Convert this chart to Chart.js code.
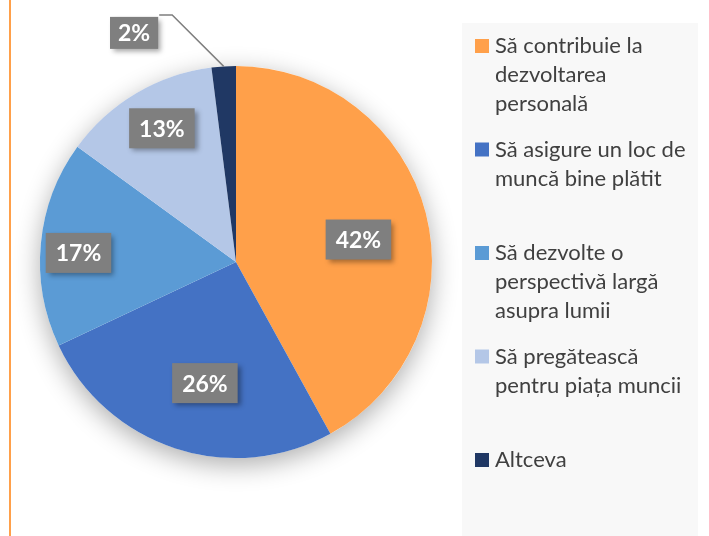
<!DOCTYPE html>
<html>
<head>
<meta charset="utf-8">
<script src="https://cdn.jsdelivr.net/npm/chart.js@4.4.0/dist/chart.umd.min.js"></script>
<style>
  html, body { margin: 0; padding: 0; background: #ffffff; }
  #wrap { position: relative; width: 709px; height: 536px; }
</style>
</head>
<body>
<div id="wrap"><canvas id="grafica"></canvas></div>
<script>
// Categorii (legenda, pe randuri ca in original)
const categorii = [
    ['Să contribuie la', 'dezvoltarea', 'personală'],
    ['Să asigure un loc de', 'muncă bine plătit'],
    ['Să dezvolte o', 'perspectivă largă', 'asupra lumii'],
    ['Să pregătească', 'pentru piața muncii'],
    ['Altceva']
];
// Procente
const procente = [42, 26, 17, 13, 2];

const culori = {
    portocaliu: '#FFA04A',
    albastru: '#4472C4',
    albastruMediu: '#5B9BD5',
    albastruDeschis: '#B4C7E7',
    bleumarin: '#203864',
    eticheta: '#7F7F7F',
    text: '#404040',
    panou: '#F8F8F8'
};
const culoriFelii = [culori.portocaliu, culori.albastru, culori.albastruMediu, culori.albastruDeschis, culori.bleumarin];

// unde stau etichetele in felii (fractie din raza, decalaj in grade); null = eticheta exterioara
const pozEtichete = [
    { r: 0.635, a: 4 },
    { r: 0.638, a: -3.6 },
    { r: 0.805, a: -2.1 },
    { r: 0.78, a: 1.6 },
    null
];

// umbra sub placinta
const umbraPlacinta = {
    id: 'umbraPlacinta',
    beforeDatasetsDraw(chart) {
        const arc = chart.getDatasetMeta(0).data[0];
        const ctx = chart.ctx;
        ctx.save();
        ctx.shadowColor = 'rgba(0, 0, 0, 0.32)';
        ctx.shadowBlur = 26;
        ctx.shadowOffsetY = 7;
        ctx.beginPath();
        ctx.arc(arc.x, arc.y, arc.outerRadius, 0, Math.PI * 2);
        ctx.fillStyle = '#ffffff';
        ctx.fill();
        ctx.restore();
    }
};

// fundal legenda + linia portocalie din stanga
const fundal = {
    id: 'fundal',
    beforeDraw(chart) {
        const ctx = chart.ctx;
        ctx.save();
        ctx.fillStyle = culori.panou;
        ctx.fillRect(462, 23, 236, 513);
        ctx.fillStyle = culori.portocaliu;
        ctx.fillRect(9, 0, 2, chart.height);
        ctx.restore();
    }
};

// legenda desenata manual
const legenda = {
    id: 'legenda',
    afterDraw(chart) {
        const ctx = chart.ctx;
        ctx.save();
        ctx.font = '22px Lato';
        ctx.textBaseline = 'middle';
        categorii.forEach((rand, i) => {
            const y = 46 + i * 103.5;
            ctx.fillStyle = culoriFelii[i];
            ctx.fillRect(475, y - 7, 14, 14);
            ctx.fillStyle = culori.text;
            rand.forEach((linie, j) => ctx.fillText(linie, 495, y + j * 29));
        });
        ctx.restore();
    }
};

// etichete cu procente
const etichete = {
    id: 'etichete',
    afterDatasetsDraw(chart) {
        const ctx = chart.ctx;
        const arcs = chart.getDatasetMeta(0).data;
        ctx.save();
        ctx.font = 'bold 23px Lato';
        ctx.textAlign = 'center';
        ctx.textBaseline = 'middle';
        arcs.forEach((arc, i) => {
            const text = procente[i] + '%';
            const tw = ctx.measureText(text).width;
            const mid = (arc.startAngle + arc.endAngle) / 2;
            let cx, cy, w, h;
            const poz = pozEtichete[i];
            if (poz) {
                const a = mid + poz.a * Math.PI / 180;
                const r = arc.outerRadius * poz.r;
                cx = arc.x + Math.cos(a) * r;
                cy = arc.y + Math.sin(a) * r;
                w = tw + 20; h = 40;
            } else {
                // eticheta exterioara cu linie de legatura
                const ax = arc.x + Math.cos(mid) * arc.outerRadius;
                const ay = arc.y + Math.sin(mid) * arc.outerRadius;
                const ex = ax - 51.5, ey = ay - 51.5;
                w = tw + 16; h = 32;
                cx = ex - 14 - w / 2;
                cy = ey + 2 + h / 2;
                ctx.strokeStyle = culori.eticheta;
                ctx.lineWidth = 1.5;
                ctx.beginPath();
                ctx.moveTo(ax, ay);
                ctx.lineTo(ex, ey);
                ctx.lineTo(ex - 13, ey);
                ctx.stroke();
            }
            ctx.save();
            ctx.shadowColor = 'rgba(0, 0, 0, 0.35)';
            ctx.shadowBlur = 5;
            ctx.shadowOffsetX = 3;
            ctx.shadowOffsetY = 3;
            ctx.fillStyle = culori.eticheta;
            ctx.fillRect(cx - w / 2, cy - h / 2, w, h);
            ctx.restore();
            ctx.fillStyle = '#ffffff';
            ctx.fillText(text, cx, cy + 1);
        });
        ctx.restore();
    }
};

const ctx = document.getElementById('grafica').getContext('2d');
new Chart(ctx, {
    type: 'pie',
    data: {
        labels: categorii.map(r => r.join(' ')),
        datasets: [{
            data: procente,
            backgroundColor: culoriFelii,
            borderWidth: 0
        }]
    },
    options: {
        responsive: true,
        maintainAspectRatio: false,
        animation: false,
        events: [],
        layout: {
            padding: { left: 40, right: 277, top: 66, bottom: 78 }
        },
        plugins: {
            legend: { display: false },
            tooltip: { enabled: false }
        }
    },
    plugins: [fundal, umbraPlacinta, etichete, legenda]
});
</script>
</body>
</html>
